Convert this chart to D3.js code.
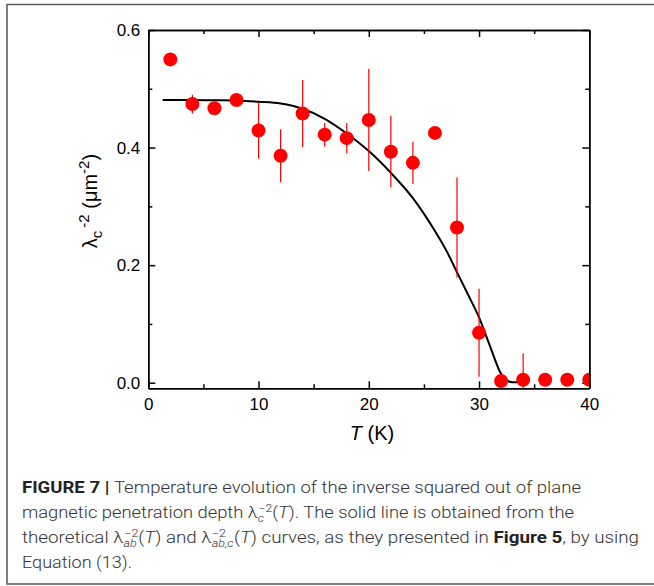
<!DOCTYPE html>
<html>
  <head>
    <style>
      body { margin: 0; background: #fff; }
      .axis text { font-family: "Liberation Sans", Arial, sans-serif; font-size: 17px; fill: #000; }
      .axis path, .axis line { stroke: #000; stroke-width: 1.5; }
      .cap { font-family: "Liberation Sans Narrow", "Roboto", sans-serif; font-size: 16.5px; font-weight: 300; fill: #333; }
    </style>
  </head>
  <body>
    <script src="https://d3js.org/d3.v7.min.js"></script>
    <div id="chart"></div>
    <script>
      // Measured points (T in K, lambda_c^-2 in um^-2)
      var temps = [2, 4, 6, 8, 10, 12, 14, 16, 18, 20, 22, 24, 26, 28, 30, 32, 34, 36, 38, 40];
      var lambdaC = [0.550, 0.474, 0.467, 0.481, 0.429, 0.386, 0.458, 0.422, 0.416, 0.447,
                     0.393, 0.374, 0.425, 0.264, 0.085, 0.003, 0.005, 0.005, 0.005, 0.005];
      var errs = [0, 0.016, 0.008, 0.010, 0.048, 0.045, 0.057, 0.020, 0.026, 0.087,
                  0.061, 0.036, 0, 0.085, 0.075, 0, 0.045, 0, 0, 0];

      // Theoretical curve
      var curveT = [1.3, 4, 6, 8, 10, 12, 14, 16, 18, 20, 22, 24, 26, 27, 28, 29, 30, 31, 32, 32.5, 33, 33.6];
      var curveV = [0.481, 0.481, 0.4805, 0.480, 0.478, 0.475, 0.466, 0.449, 0.424, 0.394, 0.357,
                    0.314, 0.258, 0.226, 0.188, 0.150, 0.111, 0.062, 0.015, 0.004, 0.001, 0.001];

      var xMajor = [0, 10, 20, 30, 40], xMinor = [5, 15, 25, 35];
      var yMajor = [0, 0.2, 0.4, 0.6], yMinor = [0.1, 0.3, 0.5];

      var W = 654, H = 586;
      var pLeft = 148.3, pRight = 589.3, pTop = 30, pBottom = 388.3;

      var svg = d3.select("#chart").append("svg")
          .attr("width", W).attr("height", H);

      // figure frame
      svg.append("rect")
          .attr("x", 7).attr("y", 4.5)
          .attr("width", 660).attr("height", 579.5)
          .attr("fill", "none").attr("stroke", "#555").attr("stroke-width", 1.5);

      var x = d3.scaleLinear().domain([0, 40]).range([pLeft, pRight]);
      var y = d3.scaleLinear().domain([-0.0095, 0.6]).range([pBottom, pTop]);

      svg.append("defs").append("clipPath").attr("id", "plot")
        .append("rect").attr("x", pLeft).attr("y", pTop)
          .attr("width", pRight - pLeft).attr("height", pBottom - pTop);

      // axes: major + minor ticks pointing inward on all four sides
      function addAxis(axis, tx, ty) {
        return svg.append("g").attr("class", "axis")
            .attr("transform", "translate(" + tx + "," + ty + ")")
            .call(axis);
      }
      addAxis(d3.axisBottom(x).tickValues(xMajor).tickSize(-7).tickSizeOuter(0).tickPadding(10), 0, pBottom);
      addAxis(d3.axisBottom(x).tickValues(xMinor).tickSize(-4).tickSizeOuter(0).tickFormat(""), 0, pBottom);
      addAxis(d3.axisTop(x).tickValues(xMajor).tickSize(-7).tickSizeOuter(0).tickFormat(""), 0, pTop);
      addAxis(d3.axisTop(x).tickValues(xMinor).tickSize(-4).tickSizeOuter(0).tickFormat(""), 0, pTop);
      addAxis(d3.axisLeft(y).tickValues(yMajor).tickSize(-7).tickSizeOuter(0).tickPadding(8)
                .tickFormat(d3.format(".1f")), pLeft, 0);
      addAxis(d3.axisLeft(y).tickValues(yMinor).tickSize(-4).tickSizeOuter(0).tickFormat(""), pLeft, 0);
      addAxis(d3.axisRight(y).tickValues(yMajor).tickSize(-7).tickSizeOuter(0).tickFormat(""), pRight, 0);
      addAxis(d3.axisRight(y).tickValues(yMinor).tickSize(-4).tickSizeOuter(0).tickFormat(""), pRight, 0);

      // theoretical curve
      var line = d3.line()
          .x(function(d) { return x(d[0]); })
          .y(function(d) { return y(d[1]); })
          .curve(d3.curveMonotoneX);
      svg.append("path")
          .datum(d3.zip(curveT, curveV))
          .attr("d", line)
          .attr("fill", "none").attr("stroke", "#000").attr("stroke-width", 2);

      var pts = temps.map(function(t, i) { return {t: t, v: lambdaC[i], e: errs[i]}; });
      var g = svg.append("g").attr("clip-path", "url(#plot)");

      // error bars
      g.selectAll(".err")
          .data(pts.filter(function(d) { return d.e > 0; }))
        .enter().append("line")
          .attr("x1", function(d) { return x(d.t); })
          .attr("x2", function(d) { return x(d.t); })
          .attr("y1", function(d) { return y(d.v - d.e); })
          .attr("y2", function(d) { return y(d.v + d.e); })
          .attr("stroke", "#ff0000").attr("stroke-width", 1.2);

      // points
      g.selectAll(".dot")
          .data(pts)
        .enter().append("circle")
          .attr("cx", function(d) { return x(d.t); })
          .attr("cy", function(d) { return y(d.v); })
          .attr("r", 7)
          .attr("fill", "#ff0000");

      // axis titles
      var xt = svg.append("text")
          .attr("x", 372).attr("y", 440)
          .attr("text-anchor", "middle")
          .style("font-family", "'Liberation Sans', Arial, sans-serif")
          .style("font-size", "20px");
      xt.append("tspan").style("font-style", "italic").text("T");
      xt.append("tspan").text(" (K)");

      var yt = svg.append("text")
          .attr("transform", "translate(97,201) rotate(-90)")
          .attr("text-anchor", "middle")
          .style("font-family", "'Liberation Sans', Arial, sans-serif")
          .style("font-size", "20px");
      yt.append("tspan").text("λ");
      yt.append("tspan").attr("dy", 5).style("font-size", "15px").text("c");
      yt.append("tspan").attr("dy", -13).attr("dx", 3).style("font-size", "15px").text("-2");
      yt.append("tspan").attr("dy", 8).text(" (μm");
      yt.append("tspan").attr("dy", -8).style("font-size", "15px").text("-2");
      yt.append("tspan").attr("dy", 8).text(")");

      // caption
      function capLine(yy, len, parts) {
        var t = svg.append("text").attr("class", "cap")
            .attr("x", 22).attr("y", yy)
            .attr("textLength", len).attr("lengthAdjust", "spacingAndGlyphs");
        parts.forEach(function(p) {
          var s = t.append("tspan").text(p.t);
          if (p.b) s.style("font-weight", "bold").style("fill", "#222");
          if (p.i) s.style("font-style", "italic");
          if (p.fs) s.style("font-size", p.fs + "px");
          if (p.dx) s.attr("dx", p.dx);
          if (p.dy) s.attr("dy", p.dy);
        });
      }
      capLine(493, 559, [
        {t: "FIGURE 7 | ", b: true},
        {t: "Temperature evolution of the inverse squared out of plane"}
      ]);
      capLine(518, 552, [
        {t: "magnetic penetration depth λ"},
        {t: "c", i: true, fs: 11, dy: 4},
        {t: "−2", fs: 11, dx: -5, dy: -10},
        {t: "(", dy: 6},
        {t: "T", i: true},
        {t: "). The solid line is obtained from the"}
      ]);
      capLine(543, 617, [
        {t: "theoretical λ"},
        {t: "ab", i: true, fs: 11, dy: 4},
        {t: "−2", fs: 11, dx: -11, dy: -10},
        {t: "(", dy: 6},
        {t: "T", i: true},
        {t: ") and λ"},
        {t: "ab,c", i: true, fs: 11, dy: 4},
        {t: "−2", fs: 11, dx: -19, dy: -10},
        {t: "(", dx: 7, dy: 6},
        {t: "T", i: true},
        {t: ") curves, as they presented in "},
        {t: "Figure 5", b: true},
        {t: ", by using"}
      ]);
      capLine(568, 110, [
        {t: "Equation (13)."}
      ]);
    </script>
  </body>
</html>
